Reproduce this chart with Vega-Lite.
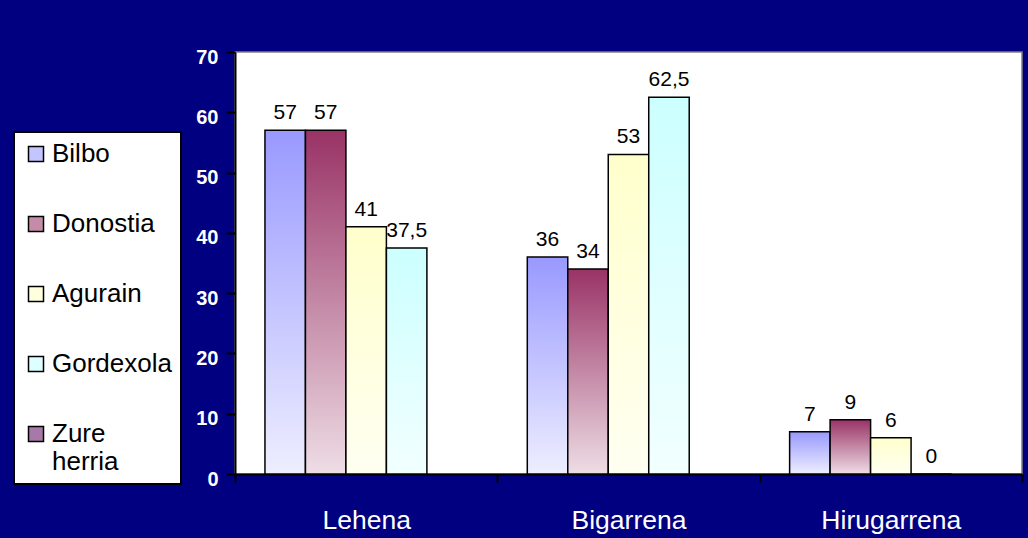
{
  "$schema": "https://vega.github.io/schema/vega-lite/v6.json",
  "width": 787,
  "height": 422,
  "autosize": {"type": "none"},
  "padding": {"left": 235, "top": 52, "right": 6, "bottom": 64},
  "background": "#000080",
  "config": {
    "font": "Liberation Sans",
    "view": {"fill": "white", "stroke": "#808080", "strokeWidth": 1.5},
    "locale": {"number": {"decimal": ",", "thousands": ".", "grouping": [3], "currency": ["", " €"]}}
  },
  "data": {
    "values": [
      {"posizioa": "Lehena", "hiria": "Bilbo", "ehunekoa": 57},
      {"posizioa": "Lehena", "hiria": "Donostia", "ehunekoa": 57},
      {"posizioa": "Lehena", "hiria": "Agurain", "ehunekoa": 41},
      {"posizioa": "Lehena", "hiria": "Gordexola", "ehunekoa": 37.5},
      {"posizioa": "Bigarrena", "hiria": "Bilbo", "ehunekoa": 36},
      {"posizioa": "Bigarrena", "hiria": "Donostia", "ehunekoa": 34},
      {"posizioa": "Bigarrena", "hiria": "Agurain", "ehunekoa": 53},
      {"posizioa": "Bigarrena", "hiria": "Gordexola", "ehunekoa": 62.5},
      {"posizioa": "Hirugarrena", "hiria": "Bilbo", "ehunekoa": 7},
      {"posizioa": "Hirugarrena", "hiria": "Donostia", "ehunekoa": 9},
      {"posizioa": "Hirugarrena", "hiria": "Agurain", "ehunekoa": 6},
      {"posizioa": "Hirugarrena", "hiria": "Gordexola", "ehunekoa": 0}
    ]
  },
  "encoding": {
    "x": {
      "field": "posizioa", "type": "nominal",
      "sort": ["Lehena", "Bigarrena", "Hirugarrena"],
      "scale": {"paddingInner": 0, "paddingOuter": 0},
      "axis": {
        "title": null, "labelAngle": 0, "labelColor": "white", "labelFontSize": 26.5,
        "labelFont": "Liberation Sans", "labelPadding": 25,
        "domainColor": "black", "domainWidth": 2, "tickColor": "black", "tickWidth": 2,
        "tickSize": 8, "tickBand": "extent", "grid": false
      }
    },
    "xOffset": {
      "field": "hiria", "type": "nominal",
      "sort": ["Bilbo", "Donostia", "Agurain", "Gordexola", "Zure herria"],
      "scale": {"domain": ["Bilbo", "Donostia", "Agurain", "Gordexola", "Zure herria"], "paddingInner": 0, "paddingOuter": 0.74}
    },
    "y": {
      "field": "ehunekoa", "type": "quantitative",
      "scale": {"domain": [0, 70]},
      "axis": {
        "title": null, "values": [0, 10, 20, 30, 40, 50, 60, 70], "grid": false,
        "labelColor": "white", "labelFontWeight": "bold", "labelFontSize": 20,
        "labelFont": "Liberation Sans", "labelPadding": 8, "labelOffset": 5,
        "domainColor": "black", "domainWidth": 2, "tickColor": "black", "tickWidth": 2, "tickSize": 9
      }
    }
  },
  "layer": [
    {
      "mark": {"type": "bar", "stroke": "black", "strokeWidth": 1.5},
      "encoding": {
        "fill": {
          "condition": [
            {"test": "datum.hiria === 'Bilbo'", "value": {"gradient": "linear", "x1": 0, "y1": 0, "x2": 0, "y2": 1, "stops": [{"offset": 0, "color": "#9999FF"}, {"offset": 1, "color": "#EEEEFF"}]}},
            {"test": "datum.hiria === 'Donostia'", "value": {"gradient": "linear", "x1": 0, "y1": 0, "x2": 0, "y2": 1, "stops": [{"offset": 0, "color": "#993366"}, {"offset": 1, "color": "#EEDDE5"}]}},
            {"test": "datum.hiria === 'Agurain'", "value": {"gradient": "linear", "x1": 0, "y1": 0, "x2": 0, "y2": 1, "stops": [{"offset": 0, "color": "#FFFFCC"}, {"offset": 1, "color": "#FFFFF2"}]}}
          ],
          "value": {"gradient": "linear", "x1": 0, "y1": 0, "x2": 0, "y2": 1, "stops": [{"offset": 0, "color": "#CCFFFF"}, {"offset": 1, "color": "#F2FFFF"}]}
        }
      }
    },
    {
      "mark": {"type": "bar", "opacity": 0},
      "encoding": {
        "color": {
          "field": "hiria", "type": "nominal",
          "scale": {
            "domain": ["Bilbo", "Donostia", "Agurain", "Gordexola", "Zure herria"],
            "range": ["#C4C4FF", "#C48CA8", "#FFFFDD", "#DDFFFF", "#A878A8"]
          },
          "legend": {
            "title": null, "orient": "none", "legendX": -221, "legendY": 80,
            "fillColor": "white", "strokeColor": "black", "padding": 9,
            "symbolType": "square", "symbolSize": 225, "symbolStrokeColor": "black",
            "symbolStrokeWidth": 1.5, "symbolOpacity": 1,
            "labelFontSize": 26, "labelColor": "black", "labelFont": "Liberation Sans",
            "labelOffset": 3, "rowPadding": 44, "labelLimit": 300,
            "labelExpr": "datum.label === 'Zure herria' ? ['Zure', 'herria'] : datum.label",
            "encode": {"legend": {"update": {"strokeWidth": {"value": 2}}}}
          }
        }
      }
    },
    {
      "mark": {"type": "text", "dy": -11, "baseline": "alphabetic", "fontSize": 21, "color": "black", "font": "Liberation Sans"},
      "encoding": {
        "text": {"field": "ehunekoa", "type": "quantitative", "format": ".1~f"}
      }
    }
  ]
}
